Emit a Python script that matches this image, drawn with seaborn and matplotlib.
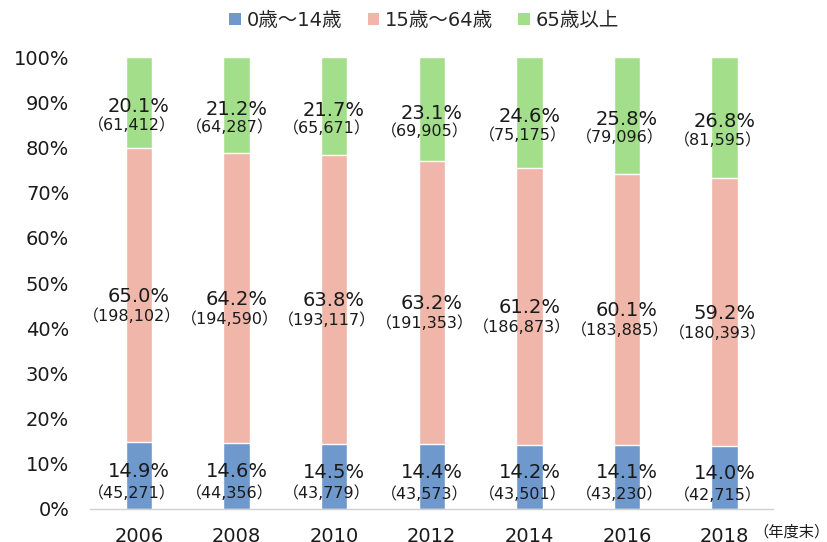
import numpy as np
import pandas as pd
import matplotlib
matplotlib.use('Agg')
import matplotlib.pyplot as plt
from matplotlib.patches import Patch
import seaborn as sns

sns.set_style('white')
plt.rcParams['font.family'] = ['DejaVu Sans', 'Noto Sans CJK JP']

years = ['2006', '2008', '2010', '2012', '2014', '2016', '2018']
young = [45271, 44356, 43779, 43573, 43501, 43230, 42715]
working = [198102, 194590, 193117, 191353, 186873, 183885, 180393]
old = [61412, 64287, 65671, 69905, 75175, 79096, 81595]
young_pct = ['14.9%', '14.6%', '14.5%', '14.4%', '14.2%', '14.1%', '14.0%']
working_pct = ['65.0%', '64.2%', '63.8%', '63.2%', '61.2%', '60.1%', '59.2%']
old_pct = ['20.1%', '21.2%', '21.7%', '23.1%', '24.6%', '25.8%', '26.8%']
groups = ['0歳～14歳', '15歳～64歳', '65歳以上']
colors = ['#6F98CC', '#EFB6A9', '#A3DF8A']

df = pd.DataFrame({'year': years, 'young': young, 'working': working, 'old': old})
total = df[['young', 'working', 'old']].sum(axis=1)
df['s_young'] = df['young'] / total
df['s_working'] = df['working'] / total
df['s_old'] = df['old'] / total
df['c1'] = df['s_young']
df['c2'] = df['s_young'] + df['s_working']
df['c3'] = df['c2'] + df['s_old']

fig = plt.figure(figsize=(8.27, 5.42), dpi=100)
ax = fig.add_axes([0.1088, 0.0609, 0.8265, 0.8339])

w = 0.27
sns.barplot(data=df, x='year', y='c3', color=colors[2], width=w, saturation=1, ax=ax)
sns.barplot(data=df, x='year', y='c2', color=colors[1], width=w, saturation=1, ax=ax)
sns.barplot(data=df, x='year', y='c1', color=colors[0], width=w, saturation=1, ax=ax)

# (segment centre, pct label, count, pct offset, count offset)
for i in range(len(years)):
    segs = [(df['s_young'][i] / 2, young_pct[i], young[i], 3, -12.5),
            (df['c1'][i] + df['s_working'][i] / 2, working_pct[i], working[i], -1, -15),
            (df['c2'][i] + df['s_old'][i] / 2, old_pct[i], old[i], -3, -16)]
    for yc, p, n, o1, o2 in segs:
        ax.annotate(p, (i, yc), xytext=(0, o1), textcoords='offset points',
                    ha='center', va='center', fontsize=14, color='#1a1a1a')
        ax.annotate('（{:,}）'.format(n), (i, yc), xytext=(-5, o2),
                    textcoords='offset points', ha='center', va='center',
                    fontsize=11.5, color='#1a1a1a')

ax.set_xlim(-0.5, len(years) - 0.5)
ax.set_ylim(0, 1)
ax.set_yticks(np.arange(0, 1.01, 0.1))
ax.set_yticklabels(['{}%'.format(int(round(v * 100))) for v in np.arange(0, 1.01, 0.1)])
ax.set_xlabel('')
ax.set_ylabel('')
ax.tick_params(axis='y', length=0, pad=15, labelsize=14, labelcolor='#1a1a1a')
ax.tick_params(axis='x', which='major', length=0, pad=13, labelsize=14, labelcolor='#1a1a1a')
ax.set_xticks(np.arange(-0.5, len(years), 1), minor=True)
ax.tick_params(axis='x', which='minor', length=6, width=1, color='#d0d0d0', direction='out')
for s in ['top', 'right', 'left']:
    ax.spines[s].set_visible(False)
ax.spines['bottom'].set_color('#d0d0d0')
ax.spines['bottom'].set_linewidth(1)

ax.text(0.97, -0.052, '（年度末）', transform=ax.transAxes, fontsize=11,
        family=['Noto Sans CJK JP'], color='#1a1a1a', ha='left', va='center')

handles = [Patch(facecolor=c, edgecolor='none') for c in colors]
fig.legend(handles, groups, loc='center', bbox_to_anchor=(0.513, 0.963), ncol=3,
           frameon=False, fontsize=14, handlelength=0.6, handleheight=0.6,
           handletextpad=0.3, columnspacing=1.3)

fig.savefig('out.png', dpi=100)
